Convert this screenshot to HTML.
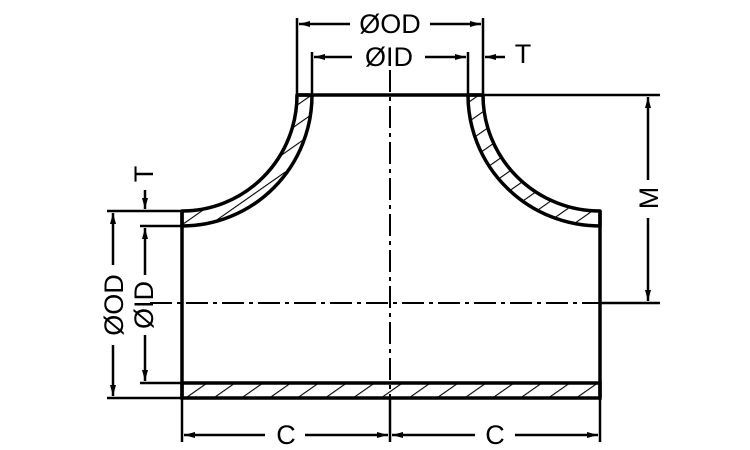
<!DOCTYPE html>
<html><head><meta charset="utf-8"><style>
html,body{margin:0;padding:0;background:#fff;}
svg{display:block;}
text{font-family:"Liberation Sans",sans-serif;font-size:27px;fill:#000;}
</style></head><body>
<svg width="750" height="450" viewBox="0 0 750 450" xmlns="http://www.w3.org/2000/svg">
<defs>
<pattern id="h" patternUnits="userSpaceOnUse" width="16" height="16" patternTransform="rotate(55)">
<line x1="0" y1="0" x2="0" y2="16" stroke="#000" stroke-width="2.2"/>
</pattern>
<marker id="a" markerWidth="11" markerHeight="6" refX="11" refY="3" orient="auto-start-reverse" markerUnits="userSpaceOnUse">
<path d="M0,0 L11,3 L0,6 Z" fill="#000"/></marker>
</defs>
<g fill="none" stroke="#000">
<path d="M297,95 A115,116 0 0 1 182,211 L182,226 A130,131 0 0 0 312,95 Z" fill="url(#h)" stroke-width="3.5" stroke-linejoin="round"/>
<path d="M483,95 A117,116 0 0 0 600,211 L600,226 A132,131 0 0 1 468,95 Z" fill="url(#h)" stroke-width="3.5" stroke-linejoin="round"/>
<rect x="182" y="383" width="418" height="15" fill="url(#h)" stroke-width="3.5"/>
<line x1="182" y1="211" x2="182" y2="398" stroke-width="3.5"/>
<line x1="600" y1="211" x2="600" y2="398" stroke-width="3.5"/>
<line x1="297" y1="95" x2="483" y2="95" stroke-width="3.5"/>
<line x1="390" y1="70" x2="390" y2="440" stroke-width="2" stroke-dasharray="22,5,4,5"/>
<line x1="150" y1="303" x2="600" y2="303" stroke-width="2" stroke-dasharray="22,5,4,5"/>
<g stroke-width="2.5">
<line x1="297" y1="18" x2="297" y2="95"/>
<line x1="483" y1="18" x2="483" y2="95"/>
<line x1="312" y1="52" x2="312" y2="95"/>
<line x1="468" y1="52" x2="468" y2="95"/>
<line x1="483" y1="95" x2="660" y2="95"/>
<line x1="600" y1="303" x2="660" y2="303"/>
<line x1="107" y1="211" x2="182" y2="211"/>
<line x1="140" y1="226" x2="182" y2="226"/>
<line x1="107" y1="398" x2="182" y2="398"/>
<line x1="140" y1="383" x2="182" y2="383"/>
<line x1="182" y1="398" x2="182" y2="442"/>
<line x1="600" y1="398" x2="600" y2="442"/>
<line x1="390" y1="398" x2="390" y2="442"/>
</g>
<g stroke-width="2.5">
<line x1="299" y1="24" x2="350" y2="24" marker-start="url(#a)"/>
<line x1="430" y1="24" x2="481" y2="24" marker-end="url(#a)"/>
<line x1="314" y1="57" x2="352" y2="57" marker-start="url(#a)"/>
<line x1="425" y1="57" x2="466" y2="57" marker-end="url(#a)"/>
<line x1="485" y1="57" x2="505" y2="57" marker-start="url(#a)"/>
<line x1="648" y1="97" x2="648" y2="180" marker-start="url(#a)"/>
<line x1="648" y1="218" x2="648" y2="301" marker-end="url(#a)"/>
<line x1="184" y1="435" x2="265" y2="435" marker-start="url(#a)"/>
<line x1="305" y1="435" x2="388" y2="435" marker-end="url(#a)"/>
<line x1="392" y1="435" x2="475" y2="435" marker-start="url(#a)"/>
<line x1="515" y1="435" x2="598" y2="435" marker-end="url(#a)"/>
<line x1="113" y1="213" x2="113" y2="265" marker-start="url(#a)"/>
<line x1="113" y1="345" x2="113" y2="396" marker-end="url(#a)"/>
<line x1="145" y1="228" x2="145" y2="275" marker-start="url(#a)"/>
<line x1="145" y1="335" x2="145" y2="381" marker-end="url(#a)"/>
<line x1="145" y1="190" x2="145" y2="209" marker-end="url(#a)"/>
</g>
</g>
<text x="390" y="33" text-anchor="middle">ØOD</text>
<text x="389" y="66" text-anchor="middle">ØID</text>
<text x="523" y="63" text-anchor="middle">T</text>
<text x="286" y="444" text-anchor="middle">C</text>
<text x="495" y="444" text-anchor="middle">C</text>
<text transform="translate(658,198) rotate(-90)" text-anchor="middle">M</text>
<text transform="translate(123,305) rotate(-90)" text-anchor="middle">ØOD</text>
<text transform="translate(153,305) rotate(-90)" text-anchor="middle">ØID</text>
<text transform="translate(153,174) rotate(-90)" text-anchor="middle">T</text>
</svg>
</body></html>
